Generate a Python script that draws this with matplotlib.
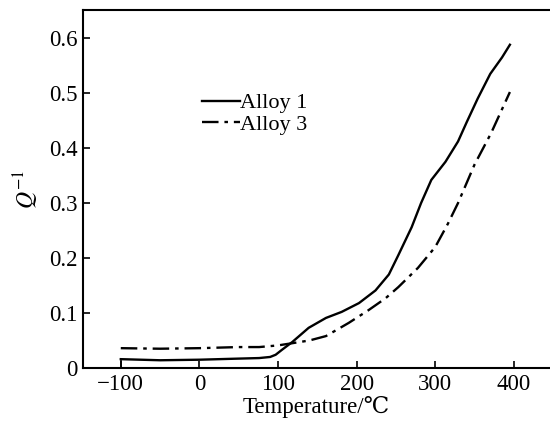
import matplotlib
matplotlib.use("Agg")
import matplotlib.pyplot as plt

plt.rcParams['font.family'] = ['Liberation Serif', 'DejaVu Serif']
plt.rcParams['mathtext.fontset'] = 'stix'

alloy1_x = [-100, -50, 0, 50, 76, 90, 97, 105, 118, 139, 161, 181, 203, 224, 241, 253, 270, 282, 295, 313, 329, 340, 354, 370, 385, 395]
alloy1_y = [0.016, 0.014, 0.015, 0.017, 0.018, 0.020, 0.024, 0.033, 0.047, 0.073, 0.091, 0.102, 0.118, 0.141, 0.170, 0.205, 0.256, 0.300, 0.342, 0.375, 0.412, 0.447, 0.490, 0.535, 0.565, 0.588]
alloy3_x = [-100, -50, 0, 50, 76, 100, 118, 140, 161, 190, 215, 237, 253, 278, 300, 316, 329, 350, 371, 395]
alloy3_y = [0.036, 0.035, 0.036, 0.038, 0.038, 0.041, 0.045, 0.05, 0.058, 0.082, 0.105, 0.127, 0.147, 0.182, 0.220, 0.262, 0.300, 0.370, 0.427, 0.502]
xticks = [-100, 0, 100, 200, 300, 400]
xtick_labels = ['\u2212100', '0', '100', '200', '300', '400']
yticks = [0, 0.1, 0.2, 0.3, 0.4, 0.5, 0.6]
ytick_labels = ['0', '0.1', '0.2', '0.3', '0.4', '0.5', '0.6']

fig = plt.figure(figsize=(5.5, 4.21), dpi=100)
ax = fig.add_axes([0.151, 0.126, 0.849, 0.85])

ax.plot(alloy1_x, alloy1_y, color='black', lw=1.7, label='Alloy 1')
ax.plot(alloy3_x, alloy3_y, color='black', lw=1.7, dashes=(7, 2.5, 1.5, 2.5), label='Alloy 3')
ax.vlines(alloy1_x[0], 0, alloy1_y[0], color='black', lw=1.2)

ax.set_xlim(-148, 446)
ax.set_ylim(0, 0.651)
ax.set_xticks(xticks)
ax.set_xticklabels(xtick_labels)
ax.set_yticks(yticks)
ax.set_yticklabels(ytick_labels)
ax.tick_params(direction='in', length=5, width=1.2, labelsize=16.5, pad=4)
for s in ['left', 'bottom', 'top']:
    ax.spines[s].set_linewidth(1.5)
ax.spines['right'].set_visible(False)

ax.set_xlabel('Temperature/\u2103', fontsize=16.5, labelpad=1)
ax.set_ylabel(r'$\mathit{Q}^{-1}$', fontsize=17, labelpad=6)

ax.legend(loc='upper left', bbox_to_anchor=(0.231, 0.80), frameon=False, fontsize=16,
          handlelength=1.7, handletextpad=0.0, labelspacing=0.05, borderpad=0)

fig.savefig('out.png', dpi=100)
